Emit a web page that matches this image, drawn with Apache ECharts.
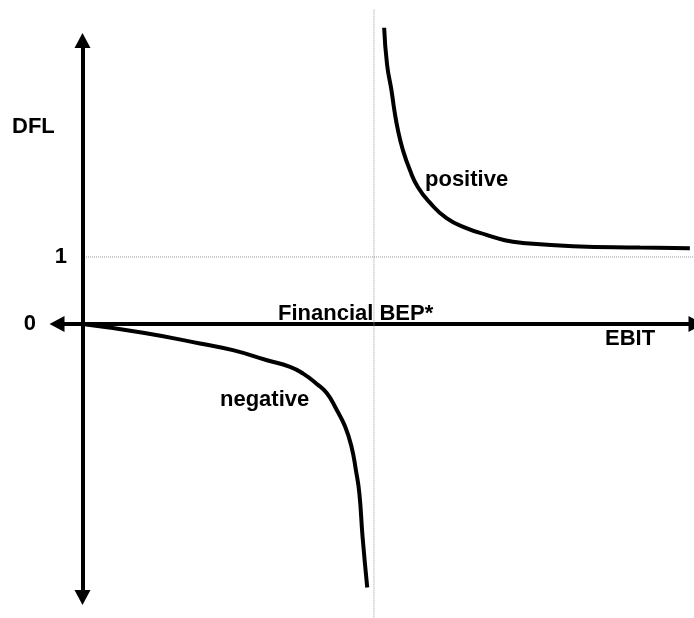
<!DOCTYPE html>
<html>
<head>
<meta charset="utf-8">
<script src="https://cdn.jsdelivr.net/npm/echarts@6/dist/echarts.min.js"></script>
<style>
  html, body { margin: 0; padding: 0; background: #fff; }
  #chart { width: 694px; height: 618px; }
</style>
</head>
<body>
<div id="chart"></div>
<script>
// EBIT in units where the financial break-even point = 100
var bepEbit = 100;
var dflOne = 1;

// positive branch (EBIT above BEP)
var positiveEbit = [103.5, 104.5, 106.0, 107.0, 108.2, 109.9, 112.3, 115.1, 119.2, 124.9, 131.7, 138.6, 144.9, 151.1, 168.3, 191.3, 208.4];
var positiveDfl = [4.42, 3.87, 3.49, 3.19, 2.90, 2.60, 2.30, 2.04, 1.81, 1.58, 1.43, 1.33, 1.25, 1.21, 1.16, 1.14, 1.13];

// negative branch (EBIT between 0 and BEP)
var negativeEbit = [0, 20.8, 40.3, 51.6, 63.3, 71.2, 75.7, 80.3, 83.8, 87.2, 90.1, 92.3, 93.8, 95.0, 96.1, 97.7];
var negativeDfl = [0, -0.13, -0.29, -0.39, -0.54, -0.64, -0.74, -0.89, -1.03, -1.28, -1.53, -1.83, -2.18, -2.53, -3.18, -3.93];

// y tick labels shown
var dflTicks = [0, 1];

function pairs (xs, ys) {
  return xs.map(function (x, i) { return [x, ys[i]]; });
}

var chart = echarts.init(document.getElementById('chart'));
var family = '"Liberation Sans", Arial, sans-serif';
var font = 'bold 22px ' + family;

chart.setOption({
  animation: false,
  grid: { left: 57, right: -2, top: 40.5, bottom: 20.5, containLabel: false, outerBoundsMode: 'none' },
  xAxis: {
    type: 'value',
    min: -8.75,
    max: 210.5,
    axisLine: {
      onZero: true,
      symbol: ['triangle', 'triangle'],
      symbolSize: [16, 15],
      lineStyle: { color: '#000', width: 4 }
    },
    axisTick: { show: false },
    axisLabel: { show: false },
    splitLine: { show: false }
  },
  yAxis: {
    type: 'value',
    min: -4.08,
    max: 4.23,
    axisLine: {
      onZero: true,
      symbol: ['triangle', 'triangle'],
      symbolSize: [16, 15],
      lineStyle: { color: '#000', width: 4 }
    },
    axisTick: { show: false },
    splitLine: { show: false },
    axisLabel: {
      customValues: dflTicks,
      margin: -10,
      color: '#000',
      fontSize: 22,
      fontWeight: 'bold',
      fontFamily: family,
      formatter: function (v) { return v === 0 ? '{z|0}' : String(v); },
      rich: {
        z: {
          fontSize: 22,
          fontWeight: 'bold',
          color: '#000',
          fontFamily: family,
          padding: [0, 31, 0, 0]
        }
      }
    }
  },
  series: [
    {
      name: 'bep',
      type: 'line',
      clip: false,
      symbol: 'none',
      silent: true,
      data: [[bepEbit, 4.69], [bepEbit, -4.4]],
      lineStyle: { color: '#999', width: 1, type: [1, 1] },
      z: 1
    },
    {
      name: 'one',
      type: 'line',
      clip: false,
      symbol: 'none',
      silent: true,
      data: [[1.2, dflOne], [212, dflOne]],
      lineStyle: { color: '#999', width: 1, type: [1, 1] },
      z: 1
    },
    {
      name: 'positive',
      type: 'line',
      clip: false,
      symbol: 'none',
      smooth: 0.5,
      data: pairs(positiveEbit, positiveDfl),
      lineStyle: { color: '#000', width: 4 },
      z: 3
    },
    {
      name: 'negative',
      type: 'line',
      clip: false,
      symbol: 'none',
      smooth: 0.5,
      data: pairs(negativeEbit, negativeDfl),
      lineStyle: { color: '#000', width: 4 },
      z: 3
    }
  ],
  graphic: [
    { type: 'text', x: 12, y: 126.5, style: { text: 'DFL', font: font, fill: '#000', verticalAlign: 'middle' } },
    { type: 'text', x: 278, y: 313.5, z: 10, style: { text: 'Financial BEP*', font: font, fill: '#000', verticalAlign: 'middle' } },
    { type: 'text', x: 605, y: 339, style: { text: 'EBIT', font: font, fill: '#000', verticalAlign: 'middle' } },
    { type: 'text', x: 425, y: 180, style: { text: 'positive', font: font, fill: '#000', verticalAlign: 'middle' } },
    { type: 'text', x: 220, y: 400, style: { text: 'negative', font: font, fill: '#000', verticalAlign: 'middle' } }
  ]
});
</script>
</body>
</html>
